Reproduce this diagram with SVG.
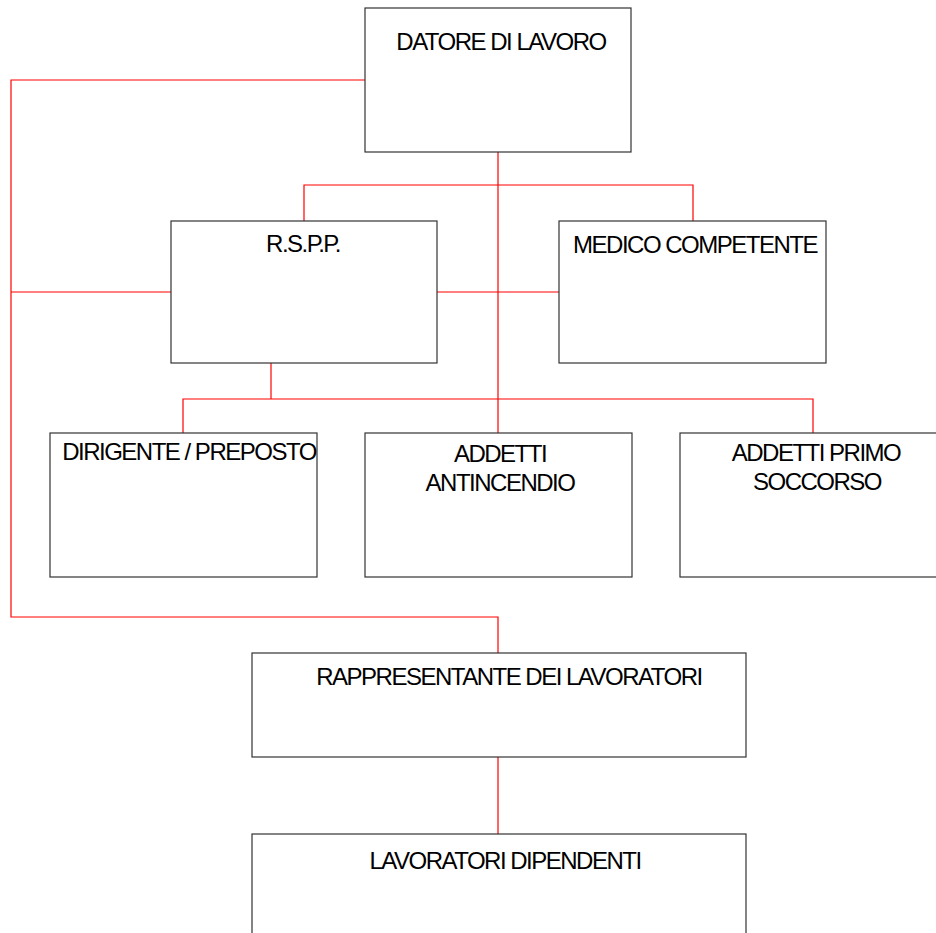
<svg xmlns="http://www.w3.org/2000/svg" width="936" height="933" viewBox="0 0 936 933">
<style>
.box{fill:#fff;stroke:#333;stroke-width:1.2}
.lbl{font-family:"Liberation Sans",Arial,sans-serif;font-size:24px;letter-spacing:-1.5px;fill:#000;text-anchor:middle}
.con{fill:none;stroke:#ff0000;stroke-width:1.2}
</style>
<rect width="936" height="933" fill="#fff"/>
<g id="connectors">
<polyline class="con" points="365,80 11,80 11,617 498,617 498,653"/>
<line class="con" x1="11" y1="292" x2="171" y2="292"/>
<line class="con" x1="437" y1="292" x2="559" y2="292"/>
<line class="con" x1="498" y1="152" x2="498" y2="433"/>
<polyline class="con" points="304,221 304,185 693,185 693,221"/>
<polyline class="con" points="271,363 271,399"/>
<polyline class="con" points="183,433 183,399 813,399 813,433"/>
<line class="con" x1="498" y1="757" x2="498" y2="834"/>
</g>
<g id="datore">
<rect class="box" x="365" y="8" width="266" height="144"/>
<text class="lbl" x="501" y="50">DATORE DI LAVORO</text>
</g>
<g id="rspp">
<rect class="box" x="171" y="221" width="266" height="142"/>
<text class="lbl" x="303" y="252">R.S.P.P.</text>
</g>
<g id="medico">
<rect class="box" x="559" y="221" width="267" height="142"/>
<text class="lbl" x="695" y="253">MEDICO COMPETENTE</text>
</g>
<g id="dirigente">
<rect class="box" x="50" y="433" width="267" height="144"/>
<text class="lbl" x="189" y="460">DIRIGENTE / PREPOSTO</text>
</g>
<g id="antincendio">
<rect class="box" x="365" y="433" width="267" height="144"/>
<text class="lbl" x="500" y="462">ADDETTI</text>
<text class="lbl" x="500" y="491">ANTINCENDIO</text>
</g>
<g id="primosoccorso">
<rect class="box" x="680" y="433" width="267" height="144"/>
<text class="lbl" x="816" y="461">ADDETTI PRIMO</text>
<text class="lbl" x="817" y="490">SOCCORSO</text>
</g>
<g id="rappresentante">
<rect class="box" x="252" y="653" width="494" height="104"/>
<text class="lbl" x="509" y="685">RAPPRESENTANTE DEI LAVORATORI</text>
</g>
<g id="lavoratori">
<rect class="box" x="252" y="834" width="494" height="140"/>
<text class="lbl" x="505" y="869">LAVORATORI DIPENDENTI</text>
</g>
</svg>
